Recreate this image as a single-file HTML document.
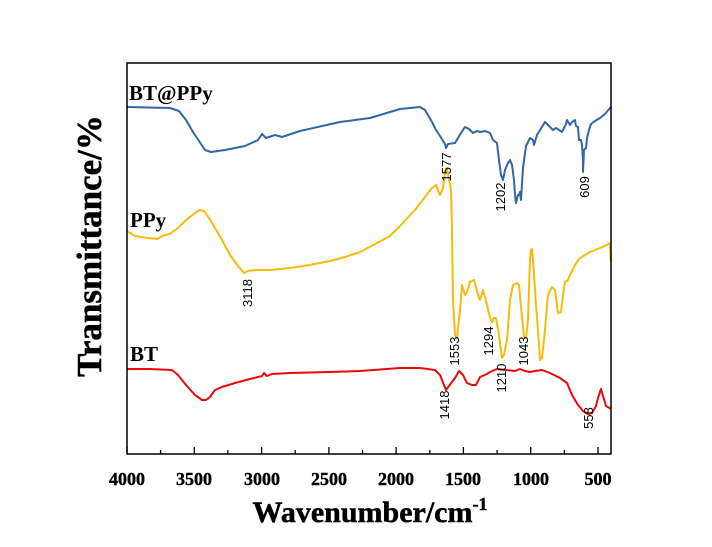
<!DOCTYPE html><html><head><style>body{margin:0;background:#fff}svg{display:block}</style></head><body>
<svg width="712" height="547" xmlns="http://www.w3.org/2000/svg">
<rect width="712" height="547" fill="#fff"/>
<g fill="none" stroke-width="2" stroke-linejoin="round">
<polyline stroke="#3465a0" points="127,107 170,108 179,111 186,120 193,132 205,150 211,152 225,150 245,146 258,140 262,134 266,138 275,135 282,137 300,131 340,122 370,118 400,109 420,107 425,110 432,122 436,130 440,136 445,144 446,148 448,144 455,143 461,133 465,127 469,129 473,133 477,131 480,132 485,131 490,133 493,140 497,143 499,160 501,175 503,180 505,170 508,163 510,160 512,165 514,180 515,195 516,203 518,195 519,195 520,192 521,200 523,168 526,146 530,138 533,140 534,145 537,135 545,122 553,130 556,128 562,132 566,124 567,120 570,125 572,122 575,120 576,126 578,127 579,140 581,140 582,145 583,160 583,172 584,150 586,148 587,138 589,130 591,124 595,121 600,118 605,114 610,108 611,107"/>
<polyline stroke="#f5bc0c" points="127,231 135,236 148,238 157,239 162,236 170,234 178,228 185,221 195,213 200,210 204,211 209,218 215,228 222,240 230,255 238,266 244,273 248,271 255,270 270,270 290,268 310,265 330,261 345,257 360,252 375,244 390,236 400,226 415,210 425,197 432,188 436,185 440,195 443,188 445,172 447,168 449,180 451,190 452,230 453,300 455,335 457,338 460,310 462,285 465,295 467,292 470,282 474,280 478,295 480,300 483,290 487,305 490,318 492,322 494,318 496,318 499,335 502,358 504,355 507,340 510,300 513,285 517,283 519,285 521,307 524,337 526,338 528,320 530,260 531,250 532,249 533,260 536,305 538,330 540,360 542,358 545,330 548,295 552,287 555,290 558,313 561,312 563,295 565,282 568,280 570,275 575,265 580,258 590,252 600,248 607,245 610,243 611,262"/>
<polyline stroke="#e8090b" points="127,369 150,369 172,370 178,375 186,385 195,395 202,400 206,400 210,397 215,390 222,387 235,383 250,379 262,376 264,373 267,376 272,374 290,373 330,372 360,371 400,368 420,368 435,370 440,375 444,385 446,390 449,386 455,378 459,371 463,375 467,383 472,385 476,385 480,377 487,374 490,372 497,369 505,370 515,371 520,369 525,371 530,372 535,371 542,370 550,373 560,378 567,383 572,395 578,405 583,411 588,414 592,413 596,406 598,398 601,389 603,396 606,406 611,409"/>
</g>
<rect x="127" y="63" width="484" height="391" fill="none" stroke="#000" stroke-width="1.5"/>
<g stroke="#000" stroke-width="1.3">
<line x1="127" y1="454" x2="127" y2="447"/><line x1="160.6" y1="454" x2="160.6" y2="450"/>
<line x1="194.3" y1="454" x2="194.3" y2="447"/><line x1="227.9" y1="454" x2="227.9" y2="450"/>
<line x1="261.6" y1="454" x2="261.6" y2="447"/><line x1="295.2" y1="454" x2="295.2" y2="450"/>
<line x1="328.9" y1="454" x2="328.9" y2="447"/><line x1="362.5" y1="454" x2="362.5" y2="450"/>
<line x1="396.1" y1="454" x2="396.1" y2="447"/><line x1="429.8" y1="454" x2="429.8" y2="450"/>
<line x1="463.4" y1="454" x2="463.4" y2="447"/><line x1="497.1" y1="454" x2="497.1" y2="450"/>
<line x1="530.7" y1="454" x2="530.7" y2="447"/><line x1="564.4" y1="454" x2="564.4" y2="450"/>
<line x1="598" y1="454" x2="598" y2="447"/>
</g>
<g font-family="Liberation Serif, serif" font-weight="bold" font-size="18" text-anchor="middle" stroke="#000" stroke-width="0.4">
<text x="127" y="485">4000</text><text x="194" y="485">3500</text><text x="262" y="485">3000</text>
<text x="329" y="485">2500</text><text x="396" y="485">2000</text><text x="463" y="485">1500</text>
<text x="531" y="485">1000</text><text x="598" y="485">500</text>
</g>
<text x="370" y="522" font-family="Liberation Serif, serif" font-weight="bold" font-size="30" text-anchor="middle" stroke="#000" stroke-width="0.5">Wavenumber/cm<tspan font-size="18" dy="-12">-1</tspan></text>
<text transform="translate(101,246) rotate(-90)" font-family="Liberation Serif, serif" font-weight="bold" font-size="35" text-anchor="middle" stroke="#000" stroke-width="0.5">Transmittance/%</text>
<g font-family="Liberation Serif, serif" font-weight="bold" font-size="21">
<text x="129" y="100">BT@PPy</text><text x="130" y="227">PPy</text><text x="130" y="361">BT</text>
</g>
<g font-family="Liberation Sans, sans-serif" font-size="13" text-anchor="middle">
<text transform="translate(451,167) rotate(-90)">1577</text>
<text transform="translate(505,197) rotate(-90)">1202</text>
<text transform="translate(589,187) rotate(-90)">609</text>
<text transform="translate(252,293) rotate(-90)">3118</text>
<text transform="translate(459,351) rotate(-90)">1553</text>
<text transform="translate(493,341) rotate(-90)">1294</text>
<text transform="translate(506,378) rotate(-90)">1210</text>
<text transform="translate(528,351) rotate(-90)">1043</text>
<text transform="translate(449,405) rotate(-90)">1418</text>
<text transform="translate(593,418) rotate(-90)">558</text>
</g>
</svg></body></html>
